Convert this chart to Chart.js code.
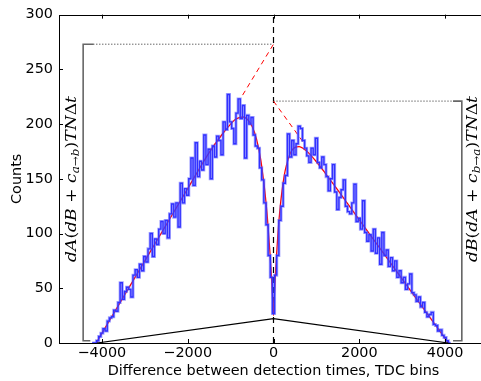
<!DOCTYPE html>
<html><head><meta charset="utf-8">
<script src="https://cdn.jsdelivr.net/npm/chart.js@4/dist/chart.umd.min.js"></script>
<style>
html,body{margin:0;padding:0;overflow:hidden;background:#fff;width:481px;height:381px}
#c{position:absolute;left:0;top:0}
</style></head>
<body><canvas id="c" width="500" height="381"></canvas>
<script>
// ---------- data ----------
const binWidth = 50;
const negCentersStart = -4200;   // bin centres -4200 ... 0
const countsNeg = [0,0,2,6,9,13,11,20,23,24,30,29,37,55,40,47,51,49,42,62,67,60,72,66,79,74,86,100,79,95,
  90,104,111,100,112,96,118,127,115,128,106,146,128,141,135,150,169,144,183,152,166,158,190,163,177,150,180,170,189,185,
  172,202,195,227,202,196,182,210,223,205,217,169,208,200,206,190,180,178,160,149,128,108,80,60,27];
const posCentersStart = 50;      // bin centres 50 ... 4100
const countsPos = [62,80,112,125,146,153,191,170,185,172,182,198,196,185,178,171,165,178,172,187,
  165,160,170,163,152,139,150,163,138,122,133,140,149,125,120,118,128,145,111,114,
  104,130,101,93,99,84,104,82,96,72,101,80,85,70,78,66,75,60,66,55,
  60,49,54,63,46,44,38,42,33,37,28,24,26,28,17,16,11,12,7,5,2,0];

const fitX = [-4134,-3000,-2000,-1500,-1200,-1000,-900,-800,-700,-600,-500,-400,-300,-250,-200,-150,-100,-75,-50,-25,0,
  25,50,100,150,200,250,300,400,500,600,700,800,1000,1200,1500,2000,3000,4076];
const fitY = [0,75,141,174,190.5,200,204,206,206.5,204,198,187,168,154,138,118,92,78,62,44,25,
  47,66,98,122,139.5,153,162,174,178.7,179.4,177.6,174.4,165.6,155.5,139.7,112.6,58.3,0];

const extLeftX = [-720, 0],  extLeftY = [226.5, 273];
const extRightX = [0, 690],  extRightY = [221, 183.6];
const zeroLineX = [0, 0],    zeroLineY = [0, 300];
const dotLeftX = [-4200, 0], dotLeftY = [273, 273];
const dotRightX = [0, 4185], dotRightY = [221, 221];
const brLeftX = [-4200, -4437, -4437, -4270], brLeftY = [273, 273, 2, 2];
const brRightX = [4185, 4390, 4390, 4185],   brRightY = [221, 221, 2, 2];
const baseX = [-4118, 0, 4076], baseY = [0, 22.2, 0];

const xTickValues = [-4000, -2000, 0, 2000, 4000];
const yTickValues = [0, 50, 100, 150, 200, 250, 300];
const xTitle = 'Difference between detection times, TDC bins';
const yTitle = 'Counts';
const leftLabel = [['dA',1],['(',0],['dB',1],[' + ',0],['c',1],['a\u2192b',2],[')',0],['TN',1],['\u0394',0],['t',1]];
const rightLabel = [['dB',1],['(',0],['dA',1],[' + ',0],['c',1],['b\u2192a',2],[')',0],['TN',1],['\u0394',0],['t',1]];

// ---------- build datasets ----------
function pts(xs, ys){ return xs.map((x,i)=>({x:x, y:ys[i]})); }
const hist = [];
countsNeg.forEach((v,i)=>hist.push({x: negCentersStart + i*binWidth - binWidth/2, y: v}));
countsPos.forEach((v,i)=>hist.push({x: posCentersStart + i*binWidth - binWidth/2, y: v}));
hist.push({x: posCentersStart + (countsPos.length-1)*binWidth + binWidth/2, y: countsPos[countsPos.length-1]});

const FONT = '"DejaVu Sans", sans-serif';
function ln(data, color, width, dash, extra){
  return Object.assign({data, borderColor:color, borderWidth:width, borderDash:dash||[], pointRadius:0,
    fill:false, tension:0}, extra||{});
}

const decor = {
  id:'decor',
  afterDraw(chart){
    const {ctx, chartArea:a, scales} = chart;
    ctx.save();
    ctx.strokeStyle = '#000'; ctx.lineWidth = 1;
    ctx.strokeRect(Math.round(a.left)+0.5, Math.round(a.top)+0.5, Math.round(a.right-a.left), Math.round(a.bottom-a.top));
    ctx.beginPath();
    xTickValues.forEach(v=>{
      const px = Math.round(scales.x.getPixelForValue(v))+0.5;
      ctx.moveTo(px, a.bottom); ctx.lineTo(px, a.bottom-4);
      ctx.moveTo(px, a.top); ctx.lineTo(px, a.top+4);
    });
    yTickValues.forEach(v=>{
      const py = Math.round(scales.y.getPixelForValue(v))+0.5;
      ctx.moveTo(a.left, py); ctx.lineTo(a.left+4, py);
      ctx.moveTo(a.right, py); ctx.lineTo(a.right-4, py);
    });
    ctx.stroke();
    // rotated math labels
    function drawLabel(parts, bx, cy, target){
      const s = 14.5;
      const fontFor = p => (p[1]===0 ? '' : 'italic ') + (p[1]===2 ? s*0.7 : s) + 'px "DejaVu Serif", serif';
      const W = parts.reduce((w,p)=>{ ctx.font = fontFor(p); return w + ctx.measureText(p[0]).width; },0);
      ctx.save();
      ctx.translate(bx, cy); ctx.rotate(-Math.PI/2); ctx.scale(target/W, 1);
      ctx.fillStyle = '#000'; ctx.textBaseline = 'alphabetic';
      let x = -W/2;
      parts.forEach(p=>{
        ctx.font = fontFor(p);
        ctx.fillText(p[0], x, p[1]===2 ? s*0.22 : 0);
        x += ctx.measureText(p[0]).width;
      });
      ctx.restore();
    }
    drawLabel(leftLabel, 76, 179, 166);
    drawLabel(rightLabel, 476.5, 179, 166);
    ctx.restore();
  }
};

new Chart(document.getElementById('c'), {
  type:'line',
  data:{ datasets:[
    ln(pts(baseX, baseY), '#000', 1.2),
    ln(hist, 'rgba(90,90,255,0.55)', 3, null, {stepped:'before'}),
    ln(hist, '#0000ff', 1.4, null, {stepped:'before'}),
    ln(pts(fitX, fitY), '#ff0000', 1.3, null, {cubicInterpolationMode:'monotone'}),
    ln(pts(extLeftX, extLeftY), '#ff0000', 1, [5,4]),
    ln(pts(extRightX, extRightY), '#ff0000', 1, [5,4]),
    ln(pts(zeroLineX, zeroLineY), '#000', 1.2, [6,4]),
    ln(pts(dotLeftX, dotLeftY), '#222', 1, [1,2]),
    ln(pts(dotRightX, dotRightY), '#222', 1, [1,2]),
    ln(pts(brLeftX, brLeftY), '#666', 1.6),
    ln(pts(brRightX, brRightY), '#666', 1.6)
  ]},
  options:{
    responsive:false, animation:false, devicePixelRatio:1,
    layout:{padding:{top:9, right:12, left:0, bottom:0}},
    plugins:{legend:{display:false}, tooltip:{enabled:false}},
    scales:{
      x:{type:'linear', min:-5000, max:5000,
        afterBuildTicks:s=>{ s.ticks = xTickValues.map(v=>({value:v})); },
        afterFit:s=>{ s.height = 38; },
        grid:{display:false, drawTicks:false}, border:{display:false},
        ticks:{autoSkip:false, maxRotation:0, padding:2, color:'#000', font:{family:FONT, size:14.4},
          callback:v=>String(v).replace('-', '\u2212')},
        title:{display:true, text:xTitle, color:'#000', font:{family:FONT, size:14.4}, padding:{top:0,bottom:1}}
      },
      y:{type:'linear', min:0, max:300,
        afterBuildTicks:s=>{ s.ticks = yTickValues.map(v=>({value:v})); },
        afterFit:s=>{ s.width = 59; },
        grid:{display:false, drawTicks:false}, border:{display:false},
        ticks:{padding:6, color:'#000', font:{family:FONT, size:14.4}},
        title:{display:true, text:yTitle, color:'#000', font:{family:FONT, size:14.4}, padding:{top:9,bottom:0}}
      }
    }
  },
  plugins:[decor]
});
</script>
</body></html>
